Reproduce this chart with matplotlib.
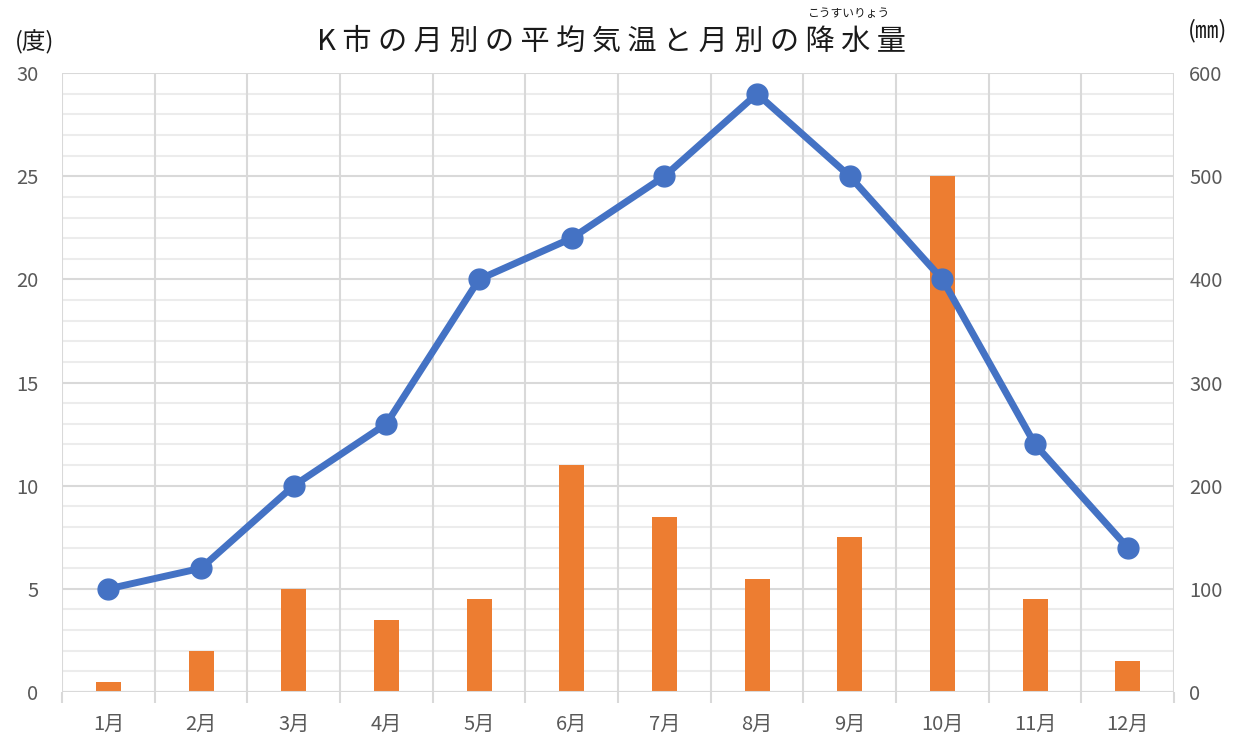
import numpy as np
import matplotlib.pyplot as plt
from matplotlib.ticker import MultipleLocator

plt.rcParams['font.family'] = ['Noto Sans CJK JP', 'DejaVu Sans']

months = ['1月', '2月', '3月', '4月', '5月', '6月', '7月', '8月', '9月', '10月', '11月', '12月']
temp = [5, 6, 10, 13, 20, 22, 25, 29, 25, 20, 12, 7]
rain = [10, 40, 100, 70, 90, 220, 170, 110, 150, 500, 90, 30]

blue = '#4472C4'
orange = '#ED7D31'
txt = '#595959'

fig = plt.figure(figsize=(12.36, 7.35), dpi=100)
ax = fig.add_axes([0.0502, 0.0585, 0.8997, 0.842])
ax2 = ax.twinx()

x = np.arange(1, 13)

# bars on the right axis, drawn behind
ax2.bar(x, rain, width=0.27, color=orange, zorder=3)
ax2.set_ylim(0, 600)
ax2.yaxis.set_major_locator(MultipleLocator(100))
ax2.yaxis.set_minor_locator(MultipleLocator(20))
ax2.grid(True, which='major', axis='y', color='#d9d9d9', lw=1.5, zorder=0)
ax2.grid(True, which='minor', axis='y', color='#ececec', lw=1.5, zorder=0)
ax2.tick_params(axis='y', which='both', length=0, pad=11, labelsize=14.5, labelcolor=txt)
ax2.set_axisbelow(True)

# temperature line in front
ax.set_zorder(ax2.get_zorder() + 1)
ax.patch.set_visible(False)
ax.plot(x, temp, color=blue, lw=5, marker='o', ms=15, zorder=5)
ax.set_ylim(0, 30)
ax.set_xlim(0.5, 12.5)
ax.yaxis.set_major_locator(MultipleLocator(5))
ax.set_xticks(x)
ax.set_xticklabels(months)
ax.set_xticks(np.arange(0.5, 13, 1), minor=True)
ax.tick_params(axis='y', length=0, pad=17, labelsize=14.5, labelcolor=txt)
ax.tick_params(axis='x', which='major', length=0, pad=16, labelsize=14.5, labelcolor=txt)
ax.tick_params(axis='x', which='minor', length=8, width=1.5, color='#d9d9d9')

# vertical category gridlines on the back axis
for b in np.arange(0.5, 13, 1):
    ax2.axvline(b, color='#d9d9d9', lw=1.5, zorder=1)

for a in (ax, ax2):
    for s in a.spines.values():
        s.set_visible(False)
ax2.axhline(0, color='#d9d9d9', lw=1.5, zorder=4)

fig.text(0.495, 0.943, 'K 市 の 月 別 の 平 均 気 温 と 月 別 の 降 水 量', ha='center', va='center',
         fontsize=21, color='#1a1a1a')
fig.text(0.687, 0.981, 'こうすいりょう', ha='center', va='center', fontsize=8.5, color='#1a1a1a')
fig.text(0.028, 0.942, '(度)', ha='center', va='center', fontsize=17, color='#1a1a1a')
fig.text(0.977, 0.958, '(㎜)', ha='center', va='center', fontsize=17, color='#1a1a1a')

fig.savefig('out.png', dpi=100)
